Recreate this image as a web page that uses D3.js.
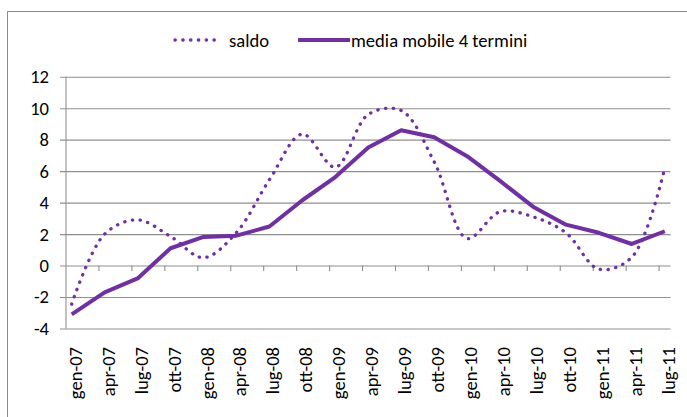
<!DOCTYPE html>
<html>
<head>
<meta charset="utf-8">
<script src="https://cdn.jsdelivr.net/npm/d3@7"></script>
<style>
  html, body { margin: 0; padding: 0; background: #fff; }
  svg { display: block; }
  text { font-family: Carlito, Calibri, Lato, sans-serif; fill: #000; }
</style>
</head>
<body>
<div id="chart"></div>
<script>
// data: quarterly categories + two series
let arrCats = ["gen-07", "apr-07", "lug-07", "ott-07", "gen-08", "apr-08", "lug-08", "ott-08",
  "gen-09", "apr-09", "lug-09", "ott-09", "gen-10", "apr-10", "lug-10", "ott-10",
  "gen-11", "apr-11", "lug-11"];
let arrSaldo = [-2.45, 2.0, 2.9, 1.85, 0.5, 2.1, 5.45, 8.35, 6.25, 9.6, 9.85, 6.6,
  1.72, 3.42, 3.1, 2.08, -0.23, 0.53, 6.2];
let arrMedia = [-3.1, -1.7, -0.82, 1.1, 1.82, 1.9, 2.48, 4.15, 5.62, 7.5, 8.6, 8.15,
  6.95, 5.38, 3.74, 2.6, 2.08, 1.37, 2.18];
let arrYTicks = [-4, -2, 0, 2, 4, 6, 8, 10, 12];
let arrLegend = ["saldo", "media mobile 4 termini"];

// total size of SVG
let intTotalWid = 687;
let intTotalHgt = 417;

// plot area (pixels)
let objPlot = { left: 66, right: 670.5, top: 76.7, bottom: 328.5 };
let strPurple = "#7030a0";
let strGrid = "#8f8f8f";
let intFont = 18.6;

let svg = d3.select("#chart")
  .append("svg")
  .attr("width", intTotalWid)
  .attr("height", intTotalHgt);

// chart border (cropped on the right/bottom like the original)
svg.append("rect")
  .attr("x", 7.5)
  .attr("y", 11.5)
  .attr("width", 720)
  .attr("height", 440)
  .attr("fill", "#fff")
  .attr("stroke", "#8a8a8a");

// 1) scales
let fnX = d3.scalePoint()
  .domain(arrCats)
  .range([objPlot.left, objPlot.right])
  .padding(0.173);

let fnY = d3.scaleLinear()
  .domain([-4, 12])
  .range([objPlot.bottom, objPlot.top]);

// 2) y axis: gridlines stick out 6px left of the axis line
let gY = svg.append("g")
  .attr("transform", `translate(${objPlot.left - 6}, 0)`)
  .call(d3.axisLeft(fnY)
    .tickValues(arrYTicks)
    .tickSize(-(objPlot.right - objPlot.left + 6))
    .tickPadding(11)
    .tickFormat(d3.format("d")));
gY.select(".domain").remove();
gY.selectAll(".tick line")
  .attr("stroke", strGrid)
  .attr("stroke-width", 1.1);
gY.selectAll(".tick text")
  .attr("font-size", intFont)
  .attr("font-family", "Carlito, Calibri, Lato, sans-serif")
  .text(d => d < 0 ? "-" + Math.abs(d) : d);

// vertical axis line
svg.append("line")
  .attr("x1", objPlot.left).attr("x2", objPlot.left)
  .attr("y1", fnY(12)).attr("y2", fnY(-4))
  .attr("stroke", strGrid)
  .attr("stroke-width", 1.1);

// 3) category axis crosses at 0: small ticks between categories
let dblPad = fnX(arrCats[0]) - objPlot.left;
svg.append("g")
  .selectAll("line")
  .data(arrCats.slice(1))
  .enter()
  .append("line")
  .attr("x1", d => fnX(d) - dblPad)
  .attr("x2", d => fnX(d) - dblPad)
  .attr("y1", fnY(0))
  .attr("y2", fnY(0) + 5.5)
  .attr("stroke", strGrid)
  .attr("stroke-width", 1.1);

// category labels sit low, below the plot, rotated
let gX = svg.append("g")
  .attr("transform", `translate(0, 347)`)
  .call(d3.axisBottom(fnX).tickSize(0).tickPadding(0));
gX.select(".domain").remove();
gX.selectAll(".tick text")
  .attr("font-size", intFont)
  .attr("font-family", "Carlito, Calibri, Lato, sans-serif")
  .attr("text-anchor", "end")
  .attr("transform", "translate(3, 0) rotate(-90)")
  .attr("x", 0)
  .attr("y", 0)
  .attr("dy", "0.35em");

// 4) lines
let fnLineSmooth = d3.line()
  .x((d, i) => fnX(arrCats[i]))
  .y(d => fnY(d))
  .curve(d3.curveCatmullRom.alpha(0.5));

let fnLine = d3.line()
  .x((d, i) => fnX(arrCats[i]))
  .y(d => fnY(d));

svg.append("path")
  .datum(arrSaldo)
  .attr("d", fnLineSmooth)
  .attr("fill", "none")
  .attr("stroke", strPurple)
  .attr("stroke-width", 3.3)
  .attr("stroke-linecap", "round")
  .attr("stroke-dasharray", "0.3 7.5");

svg.append("path")
  .datum(arrMedia)
  .attr("d", fnLine)
  .attr("fill", "none")
  .attr("stroke", strPurple)
  .attr("stroke-width", 4)
  .attr("stroke-linejoin", "round");

// 5) legend
let intLegY = 40;
svg.append("line")
  .attr("x1", 175).attr("x2", 220)
  .attr("y1", intLegY).attr("y2", intLegY)
  .attr("stroke", strPurple)
  .attr("stroke-width", 3.3)
  .attr("stroke-linecap", "round")
  .attr("stroke-dasharray", "0.3 7.5");
svg.append("text")
  .attr("x", 229)
  .attr("y", intLegY)
  .attr("dy", "0.35em")
  .attr("font-size", intFont)
  .text(arrLegend[0]);

svg.append("line")
  .attr("x1", 298).attr("x2", 350)
  .attr("y1", intLegY).attr("y2", intLegY)
  .attr("stroke", strPurple)
  .attr("stroke-width", 4);
svg.append("text")
  .attr("x", 351)
  .attr("y", intLegY)
  .attr("dy", "0.35em")
  .attr("font-size", intFont)
  .text(arrLegend[1]);
</script>
</body>
</html>
